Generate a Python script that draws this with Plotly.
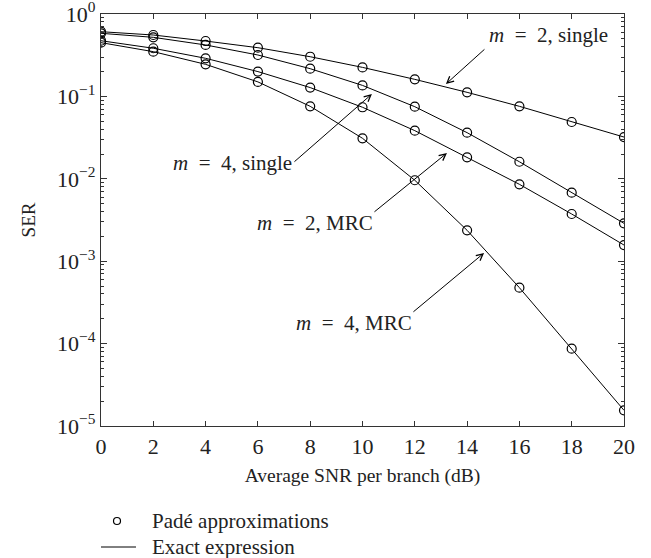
import plotly.graph_objects as go

snr_db = [0, 2, 4, 6, 8, 10, 12, 14, 16, 18, 20]
ser_m2_single = [0.61, 0.556, 0.470, 0.390, 0.303, 0.225, 0.161, 0.112, 0.0758, 0.0489, 0.0321]
ser_m4_single = [0.583, 0.521, 0.421, 0.318, 0.217, 0.136, 0.075, 0.0363, 0.0161, 0.00679, 0.00288]
ser_m2_mrc = [0.474, 0.384, 0.290, 0.200, 0.128, 0.0738, 0.0384, 0.0182, 0.00857, 0.00374, 0.00157]
ser_m4_mrc = [0.449, 0.349, 0.245, 0.150, 0.0758, 0.031, 0.0096, 0.00237, 0.000477, 8.67e-5, 1.55e-5]

x_ticks = [0, 2, 4, 6, 8, 10, 12, 14, 16, 18, 20]
y_tickvals = [1, 1e-1, 1e-2, 1e-3, 1e-4, 1e-5]
y_ticktext = ["10<sup>0</sup>", "10<sup>\u22121</sup>", "10<sup>\u22122</sup>",
              "10<sup>\u22123</sup>", "10<sup>\u22124</sup>", "10<sup>\u22125</sup>"]

legend_labels = ["Pad\u00e9 approximations", "Exact expression"]

# annotation labels: (text, text_x, text_logy, tail_x, tail_logy, head_x, head_logy)
SP = "\u2002"
labels = [
    ("<i>m</i>" + SP + "=" + SP + "2, single", 17.13, -0.255, 14.72, -0.413, 13.19, -0.85),
    ("<i>m</i>" + SP + "=" + SP + "4, single", 5.01, -1.808, 7.34, -1.808, 10.36, -0.971),
    ("<i>m</i>" + SP + "=" + SP + "2, MRC", 8.20, -2.536, 10.40, -2.415, 13.23, -1.687),
    ("<i>m</i>" + SP + "=" + SP + "4, MRC", 9.66, -3.75, 11.89, -3.629, 14.65, -2.90),
]

FONT = "Liberation Serif"
TXT = "#222"
fig = go.Figure()

for ys in [ser_m2_single, ser_m4_single, ser_m2_mrc, ser_m4_mrc]:
    fig.add_trace(go.Scatter(
        x=snr_db, y=ys, mode="lines+markers", showlegend=False,
        line=dict(color="black", width=1),
        marker=dict(symbol="circle-open", size=9, color="black", line=dict(width=1.2)),
    ))

for text, tx, ty, ax, ay, hx, hy in labels:
    fig.add_annotation(x=tx, y=ty, xref="x", yref="y", text=text, showarrow=False,
                       font=dict(family=FONT, size=21, color=TXT), xanchor="center", yanchor="middle")
    fig.add_annotation(x=hx, y=hy, ax=ax, ay=ay, xref="x", yref="y", axref="x", ayref="y",
                       text="", showarrow=True, arrowhead=5, arrowsize=1.3, arrowwidth=1,
                       arrowcolor="black", standoff=0, startstandoff=0)

# hand-drawn legend below the plot (paper coordinates)
fig.add_shape(type="circle", xref="paper", yref="paper", xsizemode="pixel", ysizemode="pixel",
              xanchor=0.0306, yanchor=-0.2306, x0=-3.5, x1=3.5, y0=-3.5, y1=3.5,
              line=dict(color="black", width=1.2))
fig.add_shape(type="line", xref="paper", yref="paper", x0=0.0, x1=0.0669, y0=-0.2937, y1=-0.2937,
              line=dict(color="black", width=1))
fig.add_annotation(x=0.0937, y=-0.2306, xref="paper", yref="paper", text=legend_labels[0],
                   showarrow=False, xanchor="left", yanchor="middle",
                   font=dict(family=FONT, size=21, color=TXT))
fig.add_annotation(x=0.0937, y=-0.2937, xref="paper", yref="paper", text=legend_labels[1],
                   showarrow=False, xanchor="left", yanchor="middle",
                   font=dict(family=FONT, size=21, color=TXT))

axis_common = dict(showline=True, linecolor="#333", linewidth=1.3, mirror="allticks",
                   ticks="inside", tickcolor="#333", showgrid=False, zeroline=False,
                   automargin=False, ticklabeloverflow="allow",
                   tickfont=dict(family=FONT, size=22, color=TXT))

fig.update_layout(
    width=651, height=558,
    margin=dict(l=101, r=27, t=14, b=132),
    paper_bgcolor="white", plot_bgcolor="white",
    font=dict(family=FONT, color=TXT),
    showlegend=False,
    xaxis=dict(range=[0, 20], tickvals=x_ticks, ticklen=5,
               title=dict(text="Average SNR per branch (dB)", font=dict(family=FONT, size=19.5), standoff=10),
               **axis_common),
    yaxis=dict(type="log", range=[-5, 0], tickvals=y_tickvals, ticktext=y_ticktext, ticklen=6,
               minor=dict(ticks="inside", ticklen=3, tickcolor="#333", dtick="D1", showgrid=False),
               title=dict(text="SER", font=dict(family=FONT, size=19), standoff=16),
               **axis_common),
)

fig.write_html("out.html", config={"displayModeBar": False},
               post_script="document.body.style.margin='0';")
